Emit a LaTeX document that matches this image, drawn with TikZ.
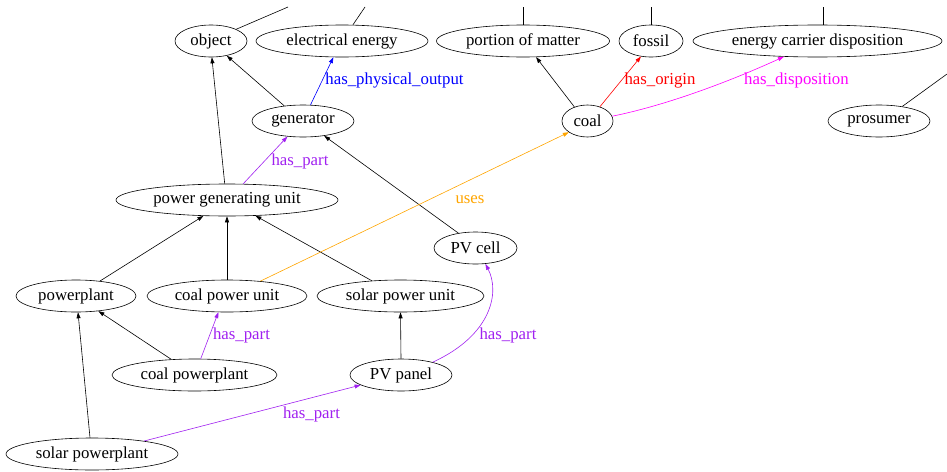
\documentclass[tikz,border=0pt]{standalone}
\usepackage{fontspec}
\setmainfont{Liberation Serif}
\usetikzlibrary{shapes.geometric, arrows.meta, positioning}
\definecolor{partcol}{RGB}{160,32,240}
\definecolor{usescol}{RGB}{255,165,0}
\definecolor{dispcol}{RGB}{255,0,255}

\begin{document}
\begin{tikzpicture}[x=1pt, y=-1pt,
    entity/.style = {shape=ellipse, draw, line width=0.6pt,
      inner sep=0pt, minimum height=32pt},
    link/.style={draw, line width=0.6pt, -{Triangle[length=6pt,width=4pt]}},
    stub/.style={draw, line width=0.6pt},
    lbl/.style={inner sep=0pt},
    font=\fontsize{16.8}{20}\selectfont]

  \useasboundingbox (0,0) rectangle (947,471);

  % upper classes
  \node[entity, minimum width=72pt]  (object) at (211,41) {object};
  \node[entity, minimum width=172pt] (elec)   at (342,41) {electrical energy};
  \node[entity, minimum width=173pt] (matter) at (523,41) {portion of matter};
  \node[entity, minimum width=64pt]  (fossil) at (651,41) {fossil};
  \node[entity, minimum width=249pt] (ecd)    at (817.5,41) {energy carrier disposition};

  \node[entity, minimum width=102pt] (gen)      at (303,121) {generator};
  \node[entity, minimum width=51pt]  (coal)     at (587.5,121) {coal};
  \node[entity, minimum width=102pt] (prosumer) at (879,121) {prosumer};

  \node[entity, minimum width=222pt] (pgu)    at (227,200) {power generating unit};
  \node[entity, minimum width=83pt]  (pvcell) at (475.5,248) {PV cell};

  \node[entity, minimum width=120pt] (plant)    at (76,296) {powerplant};
  \node[entity, minimum width=160pt] (coalunit) at (227,296) {coal power unit};
  \node[entity, minimum width=167pt] (solarunit) at (400.5,296) {solar power unit};

  \node[entity, minimum width=165pt] (coalplant) at (194.5,375) {coal powerplant};
  \node[entity, minimum width=102pt] (pvpanel)   at (401,375) {PV panel};

  \node[entity, minimum width=172pt] (solarplant) at (92,454) {solar powerplant};

  % edges leaving the picture
  \coordinate (objectup) at (288,7);
  \coordinate (elecup)   at (365,7);
  \coordinate (matterup) at (523,7);
  \coordinate (fossilup) at (651,7);
  \coordinate (ecdup)    at (823,7);
  \coordinate (prosup)   at (947,74);
  \draw[stub] (object.25) -- (objectup);
  \draw[stub] (elec.56) -- (elecup);
  \draw[stub] (matter.north) -- (matterup);
  \draw[stub] (fossil.north) -- (fossilup);
  \draw[stub] (ecdup |- ecd.north) -- (ecdup);
  \draw[stub] (prosumer.32) -- (prosup);

  % subclass edges
  \draw[link] (gen.141) -- (object.-43);
  \draw[link] (pgu.98) -- (object.-87);
  \draw[link] (pvcell.139) -- (gen.-35);
  \draw[link] (coal.133) -- (matter.-51);
  \draw[link] (plant.32) -- (pgu.-146);
  \draw[link] (coalunit.north) -- (pgu.south);
  \draw[link] (solarunit.152) -- (pgu.-29);
  \draw[link] (coalplant.146) -- (plant.-34);
  \draw[link] (solarplant.97) -- (plant.-83);
  \draw[link] (pvpanel.north) -- (solarunit.south);

  % relations
  \draw[link, blue] (gen.65) -- (elec.-118);
  \draw[link, red] (coal.49) -- (fossil.-123);
  \draw[link, dispcol] (coal.11) .. controls (668,105) and (733,80) .. (ecd.-155);
  \draw[link, usescol] (coalunit.24) -- (coal.-149);
  \draw[link, partcol] (pgu.45) -- (gen.-135);
  \draw[link, partcol] (coalplant.69) -- (coalunit.-118);
  \draw[link, partcol] (pvpanel.22) .. controls (492,335) and (500,292) .. (pvcell.-58);
  \draw[link, partcol] (solarplant.14) -- (pvpanel.-166);

  % relation labels
  \node[lbl, text=blue]    (outlbl)  at (394.5,80) {has\_physical\_output};
  \node[lbl, text=red]     (orilbl)  at (660,80) {has\_origin};
  \node[lbl, text=dispcol] (displbl) at (796.5,80) {has\_disposition};
  \node[lbl, text=usescol] (useslbl) at (470,200) {uses};
  \node[lbl, text=partcol] (partlbla) at (300,161) {has\_part};
  \node[lbl, text=partcol] (partlblb) at (241.5,335) {has\_part};
  \node[lbl, text=partcol] (partlblc) at (508,335) {has\_part};
  \node[lbl, text=partcol] (partlbld) at (311.5,414) {has\_part};
\end{tikzpicture}
\end{document}
